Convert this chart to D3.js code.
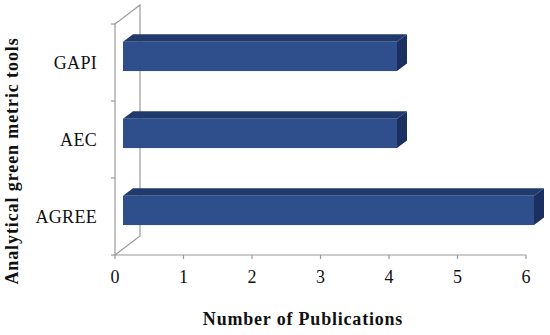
<!DOCTYPE html>
<html><head><meta charset="utf-8">
<script src="https://cdn.jsdelivr.net/npm/d3@7"></script>
<style>body{margin:0;background:#fff}svg{display:block}</style>
</head><body>
<script>
const categories = ["GAPI", "AEC", "AGREE"];
const values = [4, 4, 6];
const xTicks = [0, 1, 2, 3, 4, 5, 6];
const xTitle = "Number of Publications";
const yTitle = "Analytical green metric tools";

const W = 550, H = 335;
const svg = d3.select("body").append("svg").attr("width", W).attr("height", H);
const font = "'Liberation Serif', 'DejaVu Serif', serif";

const x = d3.scaleLinear().domain([0, 6]).range([115, 526]);
const y = d3.scaleBand().domain(categories).range([24, 255]).padding(0);
const DX = 25, DY = -19; // full depth offset
const d0 = 0.32, d1 = 0.72; // bar depth range
const axisCol = "#9a9a9a";

// walls
const y0 = y.range()[0], y1 = y.range()[1], x0 = x(0);
svg.append("path")
  .attr("d", `M${x0},${y1}L${x0},${y0}L${x0+DX},${y0+DY}L${x0+DX},${y1+DY}L${x0},${y1}`)
  .attr("fill", "none").attr("stroke", axisCol).attr("stroke-width", 1.2);
// x axis line
svg.append("line").attr("x1", x0).attr("x2", x(6)).attr("y1", y1).attr("y2", y1)
  .attr("stroke", axisCol).attr("stroke-width", 1.2);

// y ticks at band boundaries
const bounds = categories.map(c => y(c)).concat([y1]);
svg.selectAll(".yt").data(bounds).enter().append("line")
  .attr("x1", x0 - 4).attr("x2", x0).attr("y1", d => d).attr("y2", d => d)
  .attr("stroke", axisCol).attr("stroke-width", 1.2);
// x ticks
svg.selectAll(".xt").data(xTicks).enter().append("line")
  .attr("x1", d => x(d)).attr("x2", d => x(d)).attr("y1", y1).attr("y2", y1 + 4)
  .attr("stroke", axisCol).attr("stroke-width", 1.2);
svg.selectAll(".xl").data(xTicks).enter().append("text")
  .attr("x", d => x(d)).attr("y", 283).attr("text-anchor", "middle")
  .attr("font-family", font).attr("font-size", 18).attr("fill", "#111").text(d => d);

// category labels
svg.selectAll(".yl").data(categories).enter().append("text")
  .attr("x", 97).attr("y", d => y(d) + y.bandwidth() / 2 + 6).attr("text-anchor", "end")
  .attr("font-family", font).attr("font-size", 18).attr("letter-spacing", 0.3).attr("fill", "#111").text(d => d);

// bars
const bh = y.bandwidth() * 0.38;
const bars = svg.selectAll(".bar").data(categories.map((c, i) => ({c, v: values[i]}))).enter().append("g");
bars.each(function(d) {
  const g = d3.select(this);
  const cy = y(d.c) + y.bandwidth() / 2;
  const fx0 = x(0) + DX * d0, fx1 = x(d.v) + DX * d0;
  const fy0 = cy - bh / 2 + DY * d0, fy1 = cy + bh / 2 + DY * d0;
  const ox = DX * (d1 - d0), oy = DY * (d1 - d0);
  g.append("path").attr("d", `M${fx0},${fy0}L${fx0+ox},${fy0+oy}L${fx1+ox},${fy0+oy}L${fx1},${fy0}Z`)
    .attr("fill", "#203a6c");
  g.append("path").attr("d", `M${fx1},${fy0}L${fx1+ox},${fy0+oy}L${fx1+ox},${fy1+oy}L${fx1},${fy1}Z`)
    .attr("fill", "#1b3060");
  g.append("rect").attr("x", fx0).attr("y", fy0).attr("width", fx1 - fx0).attr("height", fy1 - fy0)
    .attr("fill", "#2e4f8c");
});

// titles
svg.append("text").attr("x", 303).attr("y", 325).attr("text-anchor", "middle")
  .attr("font-family", font).attr("font-size", 18).attr("font-weight", "bold")
  .attr("letter-spacing", 0.8).attr("fill", "#111").text(xTitle);
svg.append("text").attr("transform", "translate(18,161) rotate(-90)").attr("text-anchor", "middle")
  .attr("font-family", font).attr("font-size", 18).attr("font-weight", "bold")
  .attr("letter-spacing", 0.9).attr("fill", "#111").text(yTitle);
</script>
</body></html>
